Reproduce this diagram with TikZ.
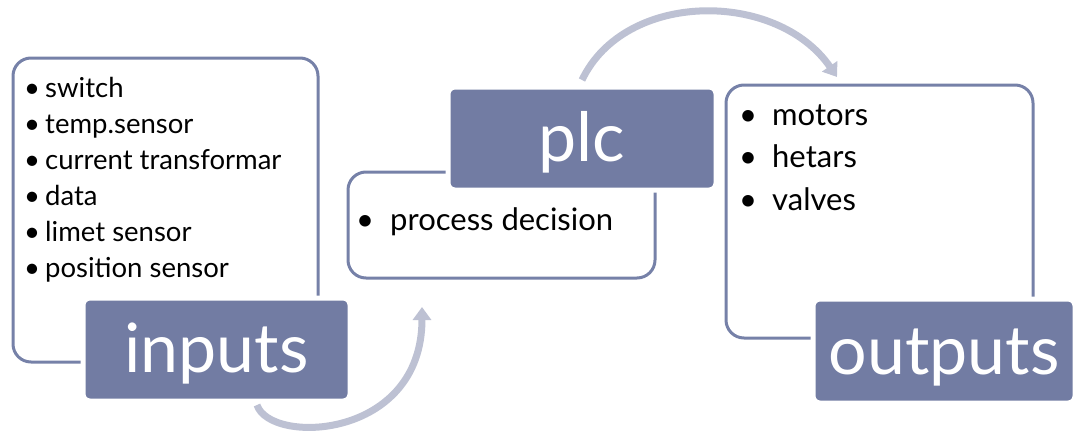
\documentclass[tikz,border=0pt]{standalone}
\usepackage{fontspec}
\setmainfont{Lato}
\usetikzlibrary{arrows.meta,positioning}
\definecolor{slate}{HTML}{727CA3}
\definecolor{slateline}{HTML}{7681A8}
\definecolor{arrowgrey}{HTML}{BDC1D3}

\begin{document}
\begin{tikzpicture}[x=1pt,y=-1pt]
    \tikzset{
      listbox/.style={rectangle,rounded corners=18pt,draw=slateline,line width=3pt,outer sep=0pt,anchor=north west},
      titlebox/.style={rectangle,rounded corners=7pt,fill=slate,draw=white,line width=5pt,outer sep=0pt,anchor=north west,inner sep=0pt,text height=46pt,text depth=0pt,text=white,font=\fontsize{68}{68}\selectfont},
      item/.style={anchor=base west,inner sep=0pt,font=\fontsize{27.5}{30}\selectfont},
      bigitem/.style={anchor=base west,inner sep=0pt,font=\fontsize{31}{34}\selectfont},
      flow/.style={-{Triangle[width=18pt,length=13pt]},draw=arrowgrey,line width=7pt}
    }
    \useasboundingbox (0,0) rectangle (1075,431);

    % white boxes with the lists
    \node[listbox,minimum width=305pt,minimum height=304pt](inputsbox) at (13,58){};
    \node[listbox,minimum width=307pt,minimum height=106pt](plcbox) at (348,172){};
    \node[listbox,minimum width=307pt,minimum height=253pt](outputsbox) at (726,85){};

    \foreach \txt [count=\i from 0] in {switch,temp.sensor,current transformar,data,limet sensor,position sensor}
      \node[item](in\i) at (24,97+36*\i){\makebox[21pt][l]{\textbullet}\txt};
    \node[bigitem](plc0) at (356,230){\makebox[34pt][l]{\textbullet}process decision};
    \foreach \txt [count=\i from 0] in {motors,hetars,valves}
      \node[bigitem](out\i) at (739,125+42.5*\i){\makebox[33pt][l]{\textbullet}\txt};

    % title boxes
    \node[titlebox,minimum width=267pt,minimum height=103pt](inputs) at (83,298){inputs};
    \node[titlebox,minimum width=268pt,minimum height=103pt](plc) at (448,87){plc};
    \node[titlebox,minimum width=262pt,minimum height=104pt](outputs) at (813,299){outputs};

    % arrows
    \coordinate (inputsout) at (257,405);
    \coordinate (plcin) at (422,307);
    \coordinate (outputsin) at (837,77);
    \draw[flow](inputsout) .. controls (270,445) and (422,440) .. (plcin);
    \draw[flow]([yshift=7pt]plc.north) .. controls (625,-10) and (777,-10) .. (outputsin);

  \end{tikzpicture}
\end{document}
